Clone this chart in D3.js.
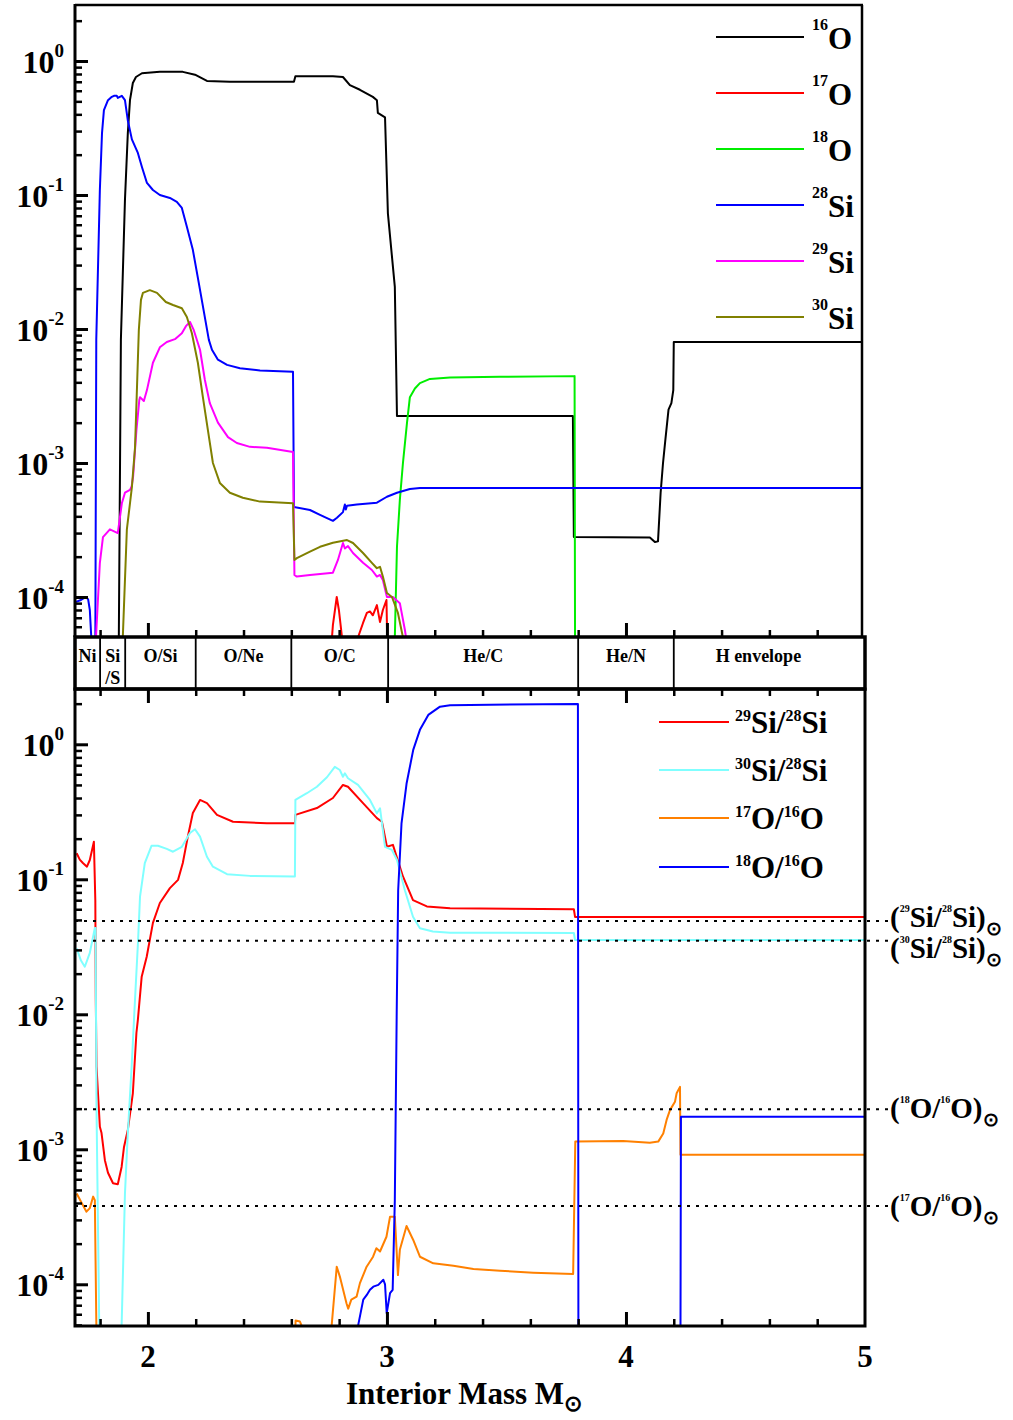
<!DOCTYPE html>
<html><head><meta charset="utf-8">
<script src="https://cdn.jsdelivr.net/npm/d3@7/dist/d3.min.js"></script>
<style>
body{margin:0;background:#fff}
svg{display:block}
text{font-family:"Liberation Serif","Times New Roman",serif;font-weight:bold;fill:#000}
</style></head><body>
<svg id="c" width="1013" height="1420"></svg>
<script>
// ---------------- DATA (mass in M_sun, mass fraction / ratio) ----------------
const o16 = [[1.878,4e-5],[1.887,0.0083],[1.904,0.092],[1.916,0.29],[1.925,0.51],[1.937,0.685],[1.950,0.76],[1.975,0.81],[2.05,0.83],[2.146,0.83],[2.197,0.79],[2.247,0.71],[2.343,0.70],[2.611,0.70],[2.617,0.77],[2.774,0.77],[2.816,0.76],[2.845,0.66],[2.887,0.61],[2.941,0.54],[2.958,0.51],[2.962,0.41],[2.992,0.38],[3.004,0.073],[3.033,0.0206],[3.042,0.00224],[3.778,0.00224],[3.782,2.8e-4],[4.100,2.78e-4],[4.121,2.57e-4],[4.134,2.6e-4],[4.145,6e-4],[4.155,1.0e-3],[4.165,1.5e-3],[4.178,2.5e-3],[4.19,2.8e-3],[4.198,3.5e-3],[4.2,8e-3],[5.0,8e-3]];
const o17 = [[2.766,4e-5],[2.774,6.2e-5],[2.790,1.0e-4],[2.799,8.0e-5],[2.812,5e-5],[2.816,4e-5],[2.870,4e-5],[2.879,5e-5],[2.900,6.4e-5],[2.916,7.6e-5],[2.929,7.8e-5],[2.941,7.3e-5],[2.958,8.7e-5],[2.971,6.5e-5],[2.983,8.0e-5],[2.998,9.5e-5],[3.002,4e-5]];
const o18 = [[3.029,4e-5],[3.033,5e-5],[3.042,2.37e-4],[3.054,5.3e-4],[3.067,1.0e-3],[3.084,2.0e-3],[3.096,3.1e-3],[3.117,3.6e-3],[3.138,3.95e-3],[3.180,4.24e-3],[3.264,4.35e-3],[3.473,4.4e-3],[3.785,4.45e-3],[3.787,4e-5]];
const si28 = [[1.699,9.2e-5],[1.72,9.5e-5],[1.741,1.0e-4],[1.75,9.6e-5],[1.757,8e-5],[1.766,4e-5],[1.780,4e-5],[1.784,0.0083],[1.799,0.109],[1.808,0.29],[1.816,0.43],[1.833,0.51],[1.849,0.54],[1.858,0.55],[1.870,0.55],[1.874,0.53],[1.891,0.55],[1.904,0.51],[1.916,0.36],[1.933,0.26],[1.958,0.206],[1.975,0.162],[1.996,0.123],[2.021,0.109],[2.050,0.100],[2.092,0.095],[2.121,0.089],[2.142,0.080],[2.163,0.058],[2.188,0.039],[2.213,0.022],[2.255,0.0083],[2.268,0.0070],[2.293,0.0059],[2.331,0.0054],[2.385,0.0051],[2.469,0.0049],[2.607,0.0048],[2.611,4.7e-4],[2.678,4.46e-4],[2.720,4.1e-4],[2.774,3.7e-4],[2.791,3.9e-4],[2.816,4.3e-4],[2.824,4.9e-4],[2.828,4.5e-4],[2.833,4.8e-4],[2.874,4.9e-4],[2.958,5.06e-4],[3.0,5.6e-4],[3.042,6.0e-4],[3.096,6.4e-4],[3.138,6.5e-4],[5.0,6.5e-4]];
const si29 = [[1.780,4e-5],[1.799,1.8e-4],[1.812,2.8e-4],[1.841,3.2e-4],[1.874,3.0e-4],[1.891,5.0e-4],[1.904,6.0e-4],[1.925,6.3e-4],[1.932,6.7e-4],[1.938,7.9e-4],[1.952,1.76e-3],[1.964,2.95e-3],[1.967,3.1e-3],[1.983,2.9e-3],[1.996,3.5e-3],[2.021,5.6e-3],[2.050,7.3e-3],[2.079,8.0e-3],[2.113,8.4e-3],[2.142,9.3e-3],[2.159,0.0105],[2.176,0.0113],[2.192,0.0098],[2.218,0.0070],[2.238,0.0042],[2.259,0.0028],[2.293,0.0020],[2.335,0.00156],[2.372,0.00141],[2.427,0.00132],[2.498,0.0013],[2.607,0.00121],[2.613,1.46e-4],[2.623,1.42e-4],[2.678,1.46e-4],[2.774,1.52e-4],[2.795,1.89e-4],[2.816,2.53e-4],[2.824,2.3e-4],[2.837,2.4e-4],[2.858,2.13e-4],[2.900,1.8e-4],[2.937,1.59e-4],[2.958,1.42e-4],[2.971,1.46e-4],[2.983,1.34e-4],[3.0,1.0e-4],[3.025,1.0e-4],[3.054,9.0e-5],[3.075,5.7e-5],[3.088,4e-5]];
const si30 = [[1.891,4e-5],[1.895,5e-5],[1.912,3.2e-4],[1.925,5.0e-4],[1.933,6.6e-4],[1.946,1.3e-3],[1.953,3.1e-3],[1.962,9.8e-3],[1.971,0.0165],[1.979,0.0186],[2.008,0.0195],[2.038,0.0186],[2.075,0.0159],[2.105,0.0151],[2.142,0.0143],[2.163,0.0123],[2.184,0.0093],[2.209,0.0056],[2.230,0.0031],[2.251,0.00176],[2.272,0.0010],[2.301,7.1e-4],[2.343,6.0e-4],[2.397,5.5e-4],[2.469,5.15e-4],[2.607,5.0e-4],[2.613,1.89e-4],[2.623,1.95e-4],[2.678,2.18e-4],[2.720,2.37e-4],[2.774,2.54e-4],[2.833,2.66e-4],[2.858,2.53e-4],[2.900,2.13e-4],[2.937,1.8e-4],[2.958,1.64e-4],[2.971,1.68e-4],[2.983,1.42e-4],[3.0,1.07e-4],[3.021,1.0e-4],[3.046,7.6e-5],[3.067,5e-5],[3.071,4e-5]];

const r29_28 = [[1.702,0.156],[1.715,0.14],[1.728,0.132],[1.745,0.124],[1.757,0.139],[1.774,0.19],[1.780,0.070],[1.782,0.0128],[1.785,0.0041],[1.799,0.00147],[1.806,0.00132],[1.820,8.3e-4],[1.833,6.7e-4],[1.854,5.6e-4],[1.874,5.5e-4],[1.890,7.4e-4],[1.900,1.04e-3],[1.916,1.39e-3],[1.937,2.6e-3],[1.952,7.3e-3],[1.958,9.1e-3],[1.974,0.019],[1.995,0.0267],[2.021,0.0475],[2.050,0.0667],[2.092,0.086],[2.126,0.099],[2.146,0.132],[2.167,0.207],[2.188,0.31],[2.218,0.387],[2.247,0.367],[2.289,0.30],[2.356,0.267],[2.498,0.26],[2.615,0.26],[2.617,0.30],[2.707,0.337],[2.774,0.40],[2.816,0.50],[2.837,0.485],[2.900,0.367],[2.958,0.284],[2.979,0.267],[3.0,0.174],[3.025,0.18],[3.067,0.105],[3.109,0.070],[3.167,0.063],[3.264,0.061],[3.782,0.060],[3.787,0.0526],[5.0,0.0526]];
const r30_28 = [[1.702,0.0308],[1.72,0.025],[1.736,0.0225],[1.757,0.0285],[1.778,0.0436],[1.781,0.0436],[1.785,0.002],[1.797,4e-5],[1.887,4e-5],[1.890,4.9e-5],[1.904,4.7e-4],[1.916,1.32e-3],[1.932,4.1e-3],[1.946,0.0128],[1.959,0.0355],[1.967,0.0743],[1.987,0.132],[2.015,0.177],[2.042,0.177],[2.079,0.168],[2.105,0.16],[2.142,0.174],[2.176,0.22],[2.197,0.235],[2.218,0.207],[2.247,0.147],[2.272,0.124],[2.331,0.109],[2.427,0.106],[2.615,0.105],[2.617,0.387],[2.665,0.434],[2.707,0.485],[2.749,0.57],[2.782,0.68],[2.803,0.645],[2.816,0.575],[2.824,0.61],[2.837,0.56],[2.879,0.50],[2.929,0.387],[2.958,0.308],[2.971,0.336],[2.992,0.174],[3.021,0.165],[3.042,0.139],[3.075,0.083],[3.109,0.0528],[3.138,0.0434],[3.192,0.041],[3.264,0.0402],[3.782,0.040],[3.787,0.0355],[5.0,0.0355]];
const r17_16 = [[1.702,4.7e-4],[1.723,4.0e-4],[1.743,3.45e-4],[1.757,3.67e-4],[1.771,4.46e-4],[1.778,4.2e-4],[1.781,1.5e-4],[1.785,4e-5],[2.615,4e-5],[2.618,5.4e-5],[2.636,5.3e-5],[2.664,4e-5],[2.766,4e-5],[2.769,5e-5],[2.790,1.35e-4],[2.803,1.14e-4],[2.831,7.2e-5],[2.838,6.6e-5],[2.851,7.7e-5],[2.873,8.1e-5],[2.887,1.02e-4],[2.915,1.35e-4],[2.942,1.6e-4],[2.956,1.85e-4],[2.971,1.75e-4],[2.998,2.25e-4],[3.013,3.17e-4],[3.033,3.17e-4],[3.046,1.17e-4],[3.054,1.8e-4],[3.082,2.7e-4],[3.110,2.13e-4],[3.138,1.6e-4],[3.194,1.43e-4],[3.278,1.37e-4],[3.362,1.3e-4],[3.473,1.26e-4],[3.612,1.22e-4],[3.779,1.19e-4],[3.788,1.14e-3],[3.988,1.15e-3],[4.100,1.12e-3],[4.135,1.14e-3],[4.156,1.31e-3],[4.170,1.65e-3],[4.184,1.95e-3],[4.205,2.25e-3],[4.212,2.6e-3],[4.226,2.9e-3],[4.228,9.1e-4],[5.0,9.1e-4]];
const r18_16 = [[2.879,4e-5],[2.880,5e-5],[2.901,7.7e-5],[2.915,8.3e-5],[2.929,9.1e-5],[2.943,9.6e-5],[2.964,9.9e-5],[2.985,1.08e-4],[2.992,1.0e-4],[2.999,6.1e-5],[3.013,8.6e-5],[3.024,9.1e-5],[3.033,4.2e-4],[3.041,0.0108],[3.047,0.083],[3.061,0.26],[3.082,0.51],[3.110,0.91],[3.138,1.28],[3.173,1.65],[3.222,1.9],[3.264,1.95],[3.799,1.99],[3.801,4e-5],[4.228,4e-5],[4.230,1.74e-3],[5.0,1.74e-3]];

// solar reference ratios (dotted lines)
const solarNames = ["29Si/28Si","30Si/28Si","18O/16O","17O/16O"];
const solarValues = [0.049, 0.035, 0.00198, 0.00038];

// zones
const zoneBounds = [1.695, 1.80, 1.905, 2.20, 2.60, 3.005, 3.80, 4.20, 5.0];
const zoneLabels = ["Ni", "Si|/S", "O/Si", "O/Ne", "O/C", "He/C", "He/N", "H envelope"];

// ticks
const xMajorTicks = [2, 3, 4, 5];
const xMinorTicks = [1.8, 2.2, 2.4, 2.6, 2.8, 3.2, 3.4, 3.6, 3.8, 4.2, 4.4, 4.6, 4.8];
const yMajorExp = [-4, -3, -2, -1, 0];

// series definitions
const topSeries = [
  {name:"16", el:"O", data:o16, color:"#000000"},
  {name:"17", el:"O", data:o17, color:"#ff0000"},
  {name:"18", el:"O", data:o18, color:"#00ee00"},
  {name:"28", el:"Si", data:si28, color:"#0000ff"},
  {name:"29", el:"Si", data:si29, color:"#ff00ff"},
  {name:"30", el:"Si", data:si30, color:"#808000"}
];
const botSeries = [
  {lab:[["29","sup"],["Si/","n"],["28","sup"],["Si","n"]], data:r29_28, color:"#ff0000"},
  {lab:[["30","sup"],["Si/","n"],["28","sup"],["Si","n"]], data:r30_28, color:"#80ffff"},
  {lab:[["17","sup"],["O/","n"],["16","sup"],["O","n"]], data:r17_16, color:"#ff8000"},
  {lab:[["18","sup"],["O/","n"],["16","sup"],["O","n"]], data:r18_16, color:"#0000ff"}
];

// ---------------- LAYOUT ----------------
const svg = d3.select("#c");
const L = 75, R = 865, Rtop = 862;
const topT = 5, topB = 637, barB = 689, botT = 689, botB = 1326;

const x = d3.scaleLinear().domain([1.695, 5]).range([L, R]);
const yTop = d3.scaleLog().domain([Math.pow(10,-4.2985), Math.pow(10,0.418)]).range([topB, topT]);
const yBot = d3.scaleLog().domain([Math.pow(10,-4.309), Math.pow(10,0.4096)]).range([botB, botT]);

const defs = svg.append("defs");
defs.append("clipPath").attr("id","clipTop").append("rect").attr("x",L).attr("y",topT).attr("width",Rtop-L).attr("height",topB-topT);
defs.append("clipPath").attr("id","clipBot").append("rect").attr("x",L).attr("y",botT).attr("width",R-L).attr("height",botB-botT);

function rich(g, xx, yy, parts, sz, anchor){
  const t = g.append("text").attr("x",xx).attr("y",yy).attr("text-anchor",anchor||"start");
  let cur = 0;
  parts.forEach(([s,k])=>{
    const off = k==="sup" ? -sz.up : (k==="sub" ? sz.down : 0);
    const fs = k==="sup" ? sz.sup : (k==="sub" ? sz.sub : sz.n);
    t.append("tspan").attr("dy", off-cur).attr("font-size", fs).text(s);
    cur = off;
  });
  return t;
}

function minorLogTicks(scale){
  const [a,b] = scale.domain(); const out=[];
  for(let e=-5;e<=1;e++) for(let k=2;k<=9;k++){ const v=k*Math.pow(10,e); if(v>a && v<b) out.push(v); }
  return out;
}

function styleAxis(g, w){
  g.select(".domain").remove();
  g.selectAll(".tick line").attr("stroke","#000").attr("stroke-width",w);
  g.selectAll(".tick text").remove();
}

// ---------- curves ----------
function drawPanel(series, yS, clip){
  const line = d3.line().x(d=>x(d[0])).y(d=>yS(d[1]));
  const g = svg.append("g").attr("clip-path", `url(#${clip})`);
  series.forEach(s=>{
    g.append("path").datum(s.data).attr("d", line).attr("fill","none")
      .attr("stroke", s.color).attr("stroke-width", 2).attr("stroke-linejoin","round");
  });
}
drawPanel(topSeries, yTop, "clipTop");
drawPanel(botSeries, yBot, "clipBot");

// ---------- dotted solar lines ----------
const dotG = svg.append("g");
solarValues.forEach(v=>{
  dotG.append("line").attr("x1",L).attr("x2",891).attr("y1",yBot(v)).attr("y2",yBot(v))
    .attr("stroke","#000").attr("stroke-width",2).attr("stroke-dasharray","3,6");
});

// ---------- axes: top panel ----------
const gyT = svg.append("g").attr("transform",`translate(${L},0)`)
  .call(d3.axisRight(yTop).tickValues(yMajorExp.map(e=>Math.pow(10,e))).tickSize(13));
styleAxis(gyT, 3);
const gyTm = svg.append("g").attr("transform",`translate(${L},0)`)
  .call(d3.axisRight(yTop).tickValues(minorLogTicks(yTop)).tickSize(7));
styleAxis(gyTm, 2.5);
const gxT = svg.append("g").attr("transform",`translate(0,${topB})`)
  .call(d3.axisTop(x).tickValues(xMajorTicks.filter(v=>v<5)).tickSize(14));
styleAxis(gxT, 3);
const gxTm = svg.append("g").attr("transform",`translate(0,${topB})`)
  .call(d3.axisTop(x).tickValues(xMinorTicks).tickSize(7));
styleAxis(gxTm, 2.5);

// ---------- axes: bottom panel ----------
const gyB = svg.append("g").attr("transform",`translate(${L},0)`)
  .call(d3.axisRight(yBot).tickValues(yMajorExp.map(e=>Math.pow(10,e))).tickSize(13));
styleAxis(gyB, 3);
const gyBm = svg.append("g").attr("transform",`translate(${L},0)`)
  .call(d3.axisRight(yBot).tickValues(minorLogTicks(yBot)).tickSize(7));
styleAxis(gyBm, 2.5);
const gxB = svg.append("g").attr("transform",`translate(0,${botB})`)
  .call(d3.axisTop(x).tickValues(xMajorTicks.filter(v=>v<5)).tickSize(14));
styleAxis(gxB, 3);
const gxBm = svg.append("g").attr("transform",`translate(0,${botB})`)
  .call(d3.axisTop(x).tickValues(xMinorTicks).tickSize(7));
styleAxis(gxBm, 2.5);
const gxB2 = svg.append("g").attr("transform",`translate(0,${botT})`)
  .call(d3.axisBottom(x).tickValues(xMajorTicks.filter(v=>v<5)).tickSize(14));
styleAxis(gxB2, 3);
const gxB2m = svg.append("g").attr("transform",`translate(0,${botT})`)
  .call(d3.axisBottom(x).tickValues(xMinorTicks).tickSize(7));
styleAxis(gxB2m, 2.5);

// ---------- frames ----------
const fr = svg.append("g").attr("fill","none").attr("stroke","#000");
fr.append("line").attr("x1",L).attr("x2",Rtop+1).attr("y1",topT).attr("y2",topT).attr("stroke-width",2.5);
fr.append("line").attr("x1",Rtop).attr("x2",Rtop).attr("y1",topT).attr("y2",topB).attr("stroke-width",2.5);
fr.append("line").attr("x1",L).attr("x2",L).attr("y1",topT-1).attr("y2",topB).attr("stroke-width",3);
fr.append("rect").attr("x",L).attr("y",topB).attr("width",R-L).attr("height",barB-topB).attr("stroke-width",3.5);
fr.append("rect").attr("x",L).attr("y",botT).attr("width",R-L).attr("height",botB-botT).attr("stroke-width",3);

// ---------- zone bar ----------
const zg = svg.append("g");
zoneBounds.slice(1,-1).forEach(b=>{
  zg.append("line").attr("x1",x(b)).attr("x2",x(b)).attr("y1",topB).attr("y2",barB).attr("stroke","#000").attr("stroke-width",1.8);
});
zoneLabels.forEach((lab,i)=>{
  const cx = (x(zoneBounds[i])+x(zoneBounds[i+1]))/2 + (i===zoneLabels.length-1 ? -11 : 0);
  lab.split("|").forEach((ln,j)=>{
    zg.append("text").attr("x",cx).attr("y",662 + j*22).attr("text-anchor","middle").attr("font-size",18).text(ln);
  });
});

// ---------- y tick labels ----------
function yLabels(yS){
  yMajorExp.forEach(e=>{
    rich(svg, 64, yS(Math.pow(10,e))+12, [["10","n"],[String(e),"sup"]], {n:32,sup:19,up:16}, "end");
  });
}
yLabels(yTop); yLabels(yBot);

// ---------- x tick labels & title ----------
xMajorTicks.forEach(v=>{
  svg.append("text").attr("x",x(v)).attr("y",1367).attr("text-anchor","middle").attr("font-size",31).text(v);
});
rich(svg, 346, 1404, [["Interior Mass M","n"],["\u2299","sub"]], {n:31,sub:22,down:7}, "start");

// ---------- legends ----------
const legTopY = [37, 93, 149, 205, 261, 317];
topSeries.forEach((s,i)=>{
  svg.append("line").attr("x1",716).attr("x2",804).attr("y1",legTopY[i]).attr("y2",legTopY[i]).attr("stroke",s.color).attr("stroke-width",2);
  rich(svg, 812, legTopY[i]+12, [[s.name,"sup"],[s.el,"n"]], {n:31,sup:16,up:19}, "start");
});
const legBotY = [722, 770, 818, 867];
botSeries.forEach((s,i)=>{
  svg.append("line").attr("x1",659).attr("x2",729).attr("y1",legBotY[i]).attr("y2",legBotY[i]).attr("stroke",s.color).attr("stroke-width",2);
  rich(svg, 735, legBotY[i]+11, s.lab, {n:31,sup:16,up:12}, "start");
});

// ---------- solar annotations ----------
const annParts = [
  [["(","n"],["29","sup"],["Si/","n"],["28","sup"],["Si)","n"],["\u2299","sub"]],
  [["(","n"],["30","sup"],["Si/","n"],["28","sup"],["Si)","n"],["\u2299","sub"]],
  [["(","n"],["18","sup"],["O/","n"],["16","sup"],["O)","n"],["\u2299","sub"]],
  [["(","n"],["17","sup"],["O/","n"],["16","sup"],["O)","n"],["\u2299","sub"]]
];
const annY = [927, 958, 1118, 1216];
annParts.forEach((p,i)=>{
  rich(svg, 890, annY[i], p, {n:29,sup:10,up:15,sub:19,down:8}, "start");
});
</script>
</body></html>
